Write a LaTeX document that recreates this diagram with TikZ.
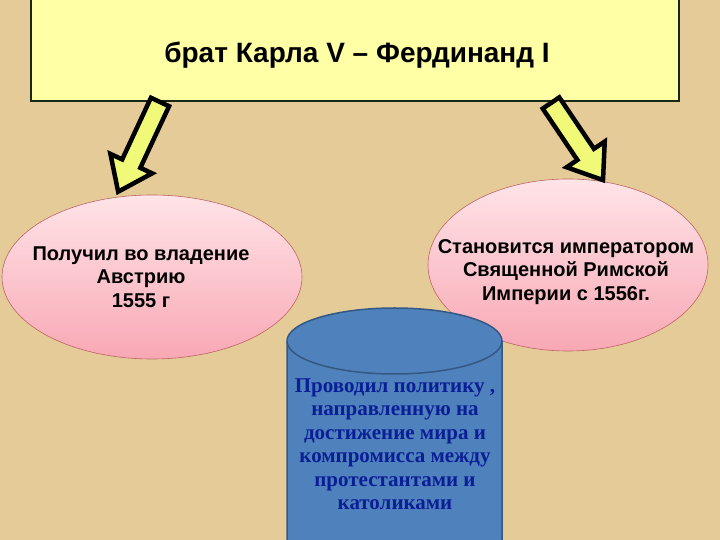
\documentclass[tikz,border=0pt]{standalone}
\usepackage{fontspec}
\setmainfont{Liberation Sans}
\newfontfamily\serifbold{Liberation Serif}
\usetikzlibrary{shapes.geometric}
\definecolor{bgtan}{RGB}{228,203,152}
\definecolor{boxyellow}{RGB}{255,255,165}
\definecolor{boxborder}{RGB}{25,40,20}
\definecolor{pinktop}{RGB}{255,228,232}
\definecolor{pinkbot}{RGB}{248,168,180}
\definecolor{pinkline}{RGB}{190,100,100}
\definecolor{cylfill}{RGB}{79,129,189}
\definecolor{cylline}{RGB}{52,88,132}
\definecolor{cyltext}{RGB}{10,30,150}
\definecolor{arrowfill}{RGB}{240,250,120}
\tikzset{
  ovalshape/.style={ellipse, draw=pinkline, line width=0.6pt, top color=pinktop, bottom color=pinkbot, inner sep=0pt},
  ovaltext/.style={align=center, font=\bfseries\fontsize{20}{23.5}\selectfont, inner sep=0pt},
  bigarrow/.style={draw=black, line width=4.5pt, fill=arrowfill, line join=miter},
}
\begin{document}
\begin{tikzpicture}[x=1pt,y=1pt]
\useasboundingbox (0,0) rectangle (720,540);
\clip (0,0) rectangle (720,540);
\fill[bgtan] (0,0) rectangle (720,540);
% top box
\node[draw=boxborder, line width=2pt, fill=boxyellow, minimum width=648pt, minimum height=104pt, inner sep=0pt, anchor=south west] (top) at (30,438) {};
\node[font=\bfseries\fontsize{28}{32}\selectfont, inner sep=0pt, anchor=base] (toptext) at (357,477) {брат Карла V – Фердинанд I};
% ellipses
\node[ovalshape, minimum width=300pt, minimum height=164pt] (left) at (152,263) {};
\node[ovaltext] (lefttext) at (141,263) {Получил во владение\\Австрию\\1555 г};
\node[ovalshape, minimum width=280pt, minimum height=172pt] (right) at (568,275) {};
\node[ovaltext] (righttext) at (566,268) {Становится императором\\Священной Римской\\Империи с 1556г.};
% arrows
\begin{scope}[shift={(160,438)}, rotate=-115]
\draw[bigarrow] (0,-10) -- (68,-10) -- (68,-23) -- (99,0) -- (68,23) -- (68,10) -- (0,10) -- cycle;
\end{scope}
\begin{scope}[shift={(551,437)}, rotate=-56]
\draw[bigarrow] (0,-10) -- (62,-10) -- (62,-23) -- (93,0) -- (62,23) -- (62,10) -- (0,10) -- cycle;
\end{scope}
% cylinder
\coordinate (cyltop) at (394.5,199);
\filldraw[fill=cylfill, draw=cylline, line width=1.5pt] (287,199) -- (287,0) arc[start angle=180, end angle=360, x radius=107.5pt, y radius=33pt] -- (502,199) arc[start angle=0, end angle=180, x radius=107.5pt, y radius=33pt] -- cycle;
\draw[cylline, line width=1.5pt] (287,199) arc[start angle=180, end angle=360, x radius=107.5pt, y radius=33pt];
\node[align=center, text=cyltext, font=\serifbold\bfseries\fontsize{21}{23.5}\selectfont, inner sep=0pt] (cyl) at (395,96) {Проводил политику ,\\направленную на\\достижение мира и\\компромисса между\\протестантами и\\католиками};
\end{tikzpicture}
\end{document}
